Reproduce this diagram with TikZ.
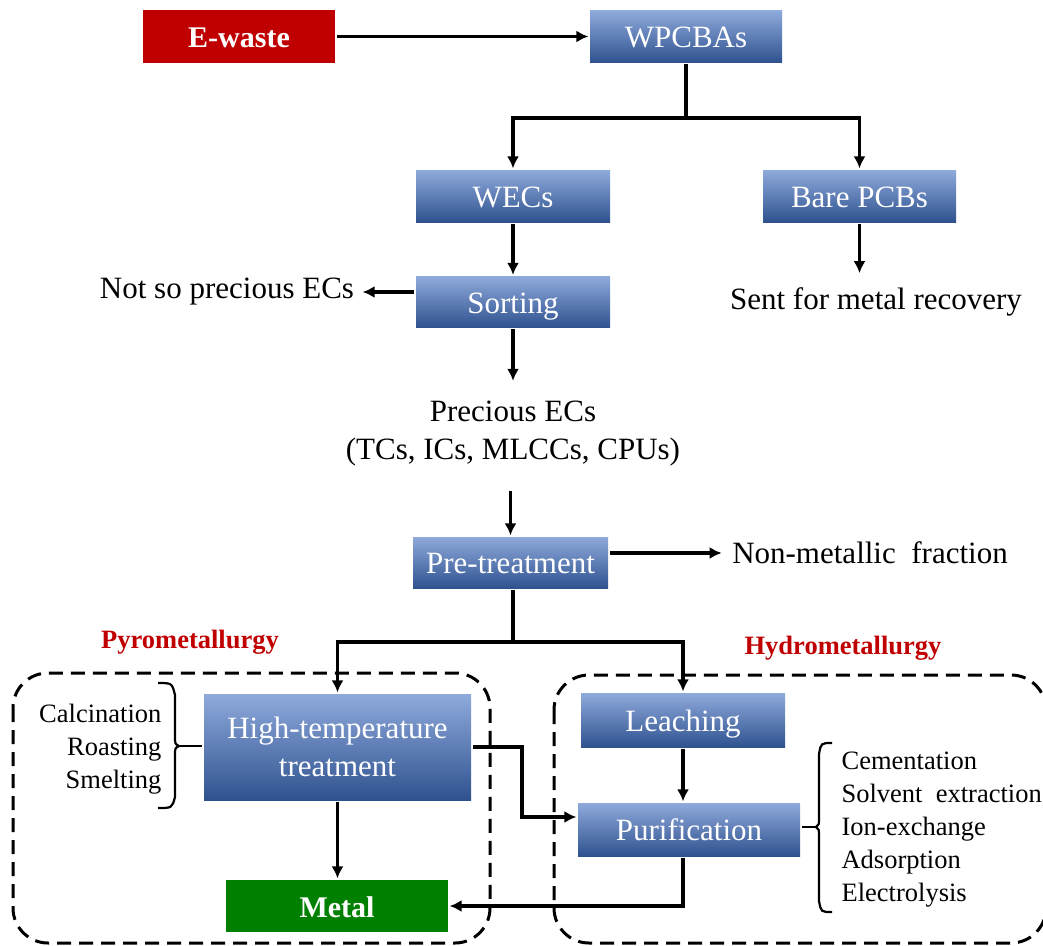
\documentclass[tikz,border=0pt]{standalone}
\usepackage{fontspec}
\setmainfont{Liberation Serif}
\usetikzlibrary{arrows.meta}
\definecolor{boxtop}{RGB}{143,170,220}
\definecolor{boxmid}{RGB}{70,114,196}
\definecolor{boxbot}{RGB}{47,82,143}
\definecolor{wastered}{RGB}{192,0,0}
\definecolor{metalgreen}{RGB}{0,128,0}
\definecolor{titlered}{RGB}{192,0,0}

\begin{document}
\begin{tikzpicture}[x=1pt,y=-1pt,>={Latex[length=12pt,width=12pt]},line width=3.2pt,
    bluebox/.style={top color=boxtop,middle color=boxmid,bottom color=boxbot,draw=none,
      text=white,font=\fontsize{31}{38}\selectfont,align=center,inner sep=0pt},
    oneline/.style={text height=27pt,text depth=5pt},
    wastebox/.style={fill=wastered,text=white,font=\fontsize{30}{37}\selectfont\bfseries,
      minimum width=192pt,minimum height=53pt,inner sep=0pt,oneline},
    metalbox/.style={fill=metalgreen,text=white,font=\fontsize{30}{37}\selectfont\bfseries,
      minimum width=222pt,minimum height=52pt,inner sep=0pt,oneline},
    plain/.style={font=\fontsize{31}{38}\selectfont,align=center,inner sep=3pt},
    listtext/.style={font=\fontsize{26.5}{33}\selectfont,inner sep=0pt},
    grouptitle/.style={text=titlered,font=\fontsize{26.5}{30}\selectfont\bfseries},
    groupframe/.style={dashed,dash pattern=on 14pt off 8pt,rounded corners=35pt,line width=3pt}]
  \useasboundingbox (0,0) rectangle (1043,945);
  % upper chain
  \node[wastebox] (ewaste) at (239,36.5) {E-waste};
  \node[bluebox,oneline,minimum width=192pt,minimum height=52pt] (wpcbas) at (686,36.5) {WPCBAs};
  \node[bluebox,oneline,minimum width=194pt,minimum height=52pt] (wecs) at (513,196) {WECs};
  \node[bluebox,oneline,minimum width=193pt,minimum height=52pt] (bare) at (859.5,196) {Bare PCBs};
  \node[bluebox,oneline,minimum width=194pt,minimum height=51pt] (sorting) at (513,302) {Sorting};
  \node[plain] (notso) at (227,292) {Not so precious ECs};
  \node[plain] (sent) at (876,302) {Sent for metal recovery};
  \node[plain] (precious) at (513,434) {Precious ECs\\(TCs, ICs, MLCCs, CPUs)};
  \node[bluebox,oneline,minimum width=195pt,minimum height=51pt] (pretreat) at (510.5,562.5) {Pre-treatment};
  \node[plain] (nonmet) at (870,553) {Non-metallic\ \ fraction};
  \coordinate (split1) at (686,118);
  \coordinate (split2) at (513,642);
  \path[->] (ewaste) edge (wpcbas);
  \draw (wpcbas.south) -- (split1);
  \draw[->] (split1) -| (wecs.north);
  \draw[->] (split1) -| (bare.north);
  \path[->] (wecs) edge (sorting);
  \draw[->] (sorting.west |- notso) -- ([xshift=4pt]notso.east);
  \draw[->] (bare.south) -- ([yshift=10pt]bare.south |- sent.north);
  \draw[->] (sorting.south) -- ([yshift=16pt]sorting.south |- precious.north);
  \draw[->] ([yshift=-20pt]pretreat.north |- precious.south) -- (pretreat.north);
  \draw[->] (pretreat.east |- nonmet) -- ([xshift=-6pt]nonmet.west);
  % lower part
  \draw[groupframe] (13,673) rectangle (490,943);
  \draw[groupframe] (554,675) rectangle (1046,943);
  \node[grouptitle] (pyro) at (190,642) {Pyrometallurgy};
  \node[grouptitle] (hydro) at (843,648) {Hydrometallurgy};
  \node[bluebox,minimum width=267pt,minimum height=106pt] (hightemp) at (337.5,747) {High-temperature\\treatment};
  \node[metalbox] (metal) at (337,906) {Metal};
  \node[bluebox,oneline,minimum width=204pt,minimum height=54pt] (leach) at (683,720) {Leaching};
  \node[bluebox,oneline,minimum width=222pt,minimum height=53pt] (purif) at (689,829.5) {Purification};
  \node[listtext,align=right,anchor=east] (pyrolist) at (163,749) {Calcination\\Roasting\\Smelting};
  \node[listtext,align=left,anchor=west] (hydrolist) at (840,830) {Cementation\\Solvent\ \ extraction\\Ion-exchange\\Adsorption\\Electrolysis};
  \draw (pretreat.south -| split2) -- (split2);
  \draw[->] (split2) -| (hightemp.north);
  \draw[->] (split2) -| (leach.north);
  \draw[->] (hightemp.south) -- (hightemp.south |- metal.north);
  \draw[->] (leach.south) -- (leach.south |- purif.north);
  \coordinate (bend) at (522,817);
  \draw[->] (hightemp.east) -| (bend) -- (bend -| purif.west);
  \draw[->] (leach.south |- purif.south) |- (metal.east);
  % braces
  \coordinate (pyrotip) at (179,746);
  \coordinate (hydrotip) at (816,827);
  \draw[line width=2.2pt] (158,683) .. controls (172,683) .. (175,695) -- (175,736)
    .. controls (175,744) .. (pyrotip) .. controls (175,748) .. (175,756) -- (175,797)
    .. controls (172,808) .. (158,808);
  \draw[line width=2.2pt] (832,743) .. controls (821,743) .. (819,754) -- (819,817)
    .. controls (819,825) .. (hydrotip) .. controls (819,829) .. (819,837) -- (819,901)
    .. controls (821,912) .. (832,912);
  \draw[line width=2.2pt] (pyrotip) -- (pyrotip -| hightemp.west);
  \draw[line width=2.2pt] (hydrotip) -- (hydrotip -| purif.east);
\end{tikzpicture}
\end{document}
